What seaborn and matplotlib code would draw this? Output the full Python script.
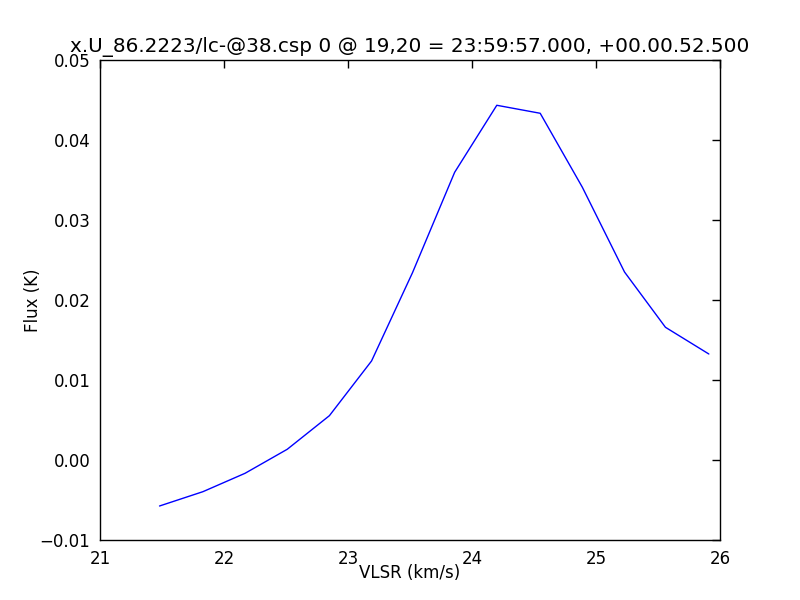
import matplotlib
matplotlib.use('Agg')
import matplotlib.pyplot as plt
import seaborn as sns
import pandas as pd

# spectrum values
vlsr = [21.48, 21.83, 22.17, 22.51, 22.85, 23.19, 23.52, 23.86,
        24.20, 24.55, 24.89, 25.23, 25.56, 25.91]
flux = [-0.00575, -0.00396, -0.00166, 0.00134, 0.00554, 0.01238, 0.02341,
        0.03596, 0.04434, 0.04334, 0.03409, 0.0235, 0.01659, 0.01325]
title = "x.U_86.2223/lc-@38.csp 0 @ 19,20 = 23:59:57.000, +00.00.52.500"

sns.set_style('white')
plt.rcParams['font.family'] = ['DejaVu Sans']
plt.rcParams['font.size'] = 12
plt.rcParams['text.color'] = 'black'
plt.rcParams['axes.labelcolor'] = 'black'
plt.rcParams['xtick.color'] = 'black'
plt.rcParams['ytick.color'] = 'black'
plt.rcParams['xtick.direction'] = 'in'
plt.rcParams['ytick.direction'] = 'in'
plt.rcParams['xtick.top'] = True
plt.rcParams['ytick.right'] = True
plt.rcParams['xtick.major.size'] = 6
plt.rcParams['ytick.major.size'] = 6
plt.rcParams['axes.edgecolor'] = 'black'
plt.rcParams['axes.linewidth'] = 1.0

df = pd.DataFrame({'VLSR': vlsr, 'Flux': flux})

fig = plt.figure(figsize=(8, 6), dpi=100)
ax = fig.add_axes([0.125, 0.1, 0.775, 0.8])
sns.lineplot(data=df, x='VLSR', y='Flux', color='blue', linewidth=1.0, ax=ax)

ax.set_xlim(21, 26)
ax.set_ylim(-0.01, 0.05)
ax.set_xticks([21, 22, 23, 24, 25, 26])
ax.set_yticks([-0.01, 0.0, 0.01, 0.02, 0.03, 0.04, 0.05])
ax.set_yticklabels(['\u22120.01', '0.00', '0.01', '0.02', '0.03', '0.04', '0.05'])
ax.tick_params(labelsize=12, pad=7, width=1)
ax.set_xlabel('VLSR (km/s)', fontsize=12, labelpad=-3)
ax.set_ylabel('Flux (K)', fontsize=12, labelpad=-2)
ax.set_title(title, fontsize=14.4)

fig.savefig('out.png', dpi=100)
